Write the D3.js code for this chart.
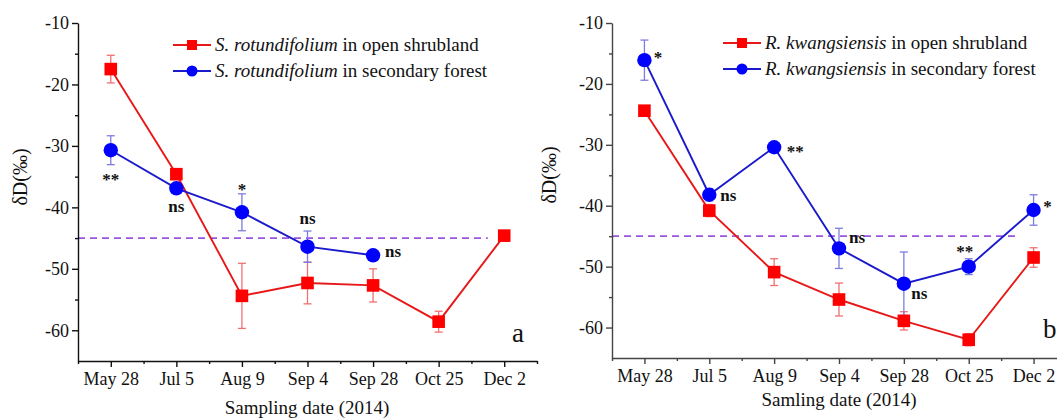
<!DOCTYPE html>
<html>
<head>
<meta charset="utf-8">
<script src="https://cdn.jsdelivr.net/npm/d3@7"></script>
<style>
  html, body { margin: 0; padding: 0; background: #fff; }
  svg { display: block; }
  svg text { font-family: "Liberation Serif", "Times New Roman", serif !important; }
</style>
</head>
<body>
<svg id="chart" width="1057" height="418"></svg>
<script>
// Sampling dates (2014)
const dates = ["May 28", "Jul 5", "Aug 9", "Sep 4", "Sep 28", "Oct 25", "Dec 2"];
const yTicks = [-10, -20, -30, -40, -50, -60];
const yMinorTicks = [-15, -25, -35, -45, -55];
const refLine = -45;

// Panel a: S. rotundifolium
const aOpenMean   = [-17.5, -34.6, -54.4, -52.3, -52.7, -58.6, -44.6];
const aOpenErr    = [2.25, 0.5, 5.3, 3.4, 2.7, 1.7, 0.4];
const aForestMean = [-30.7, -36.9, -40.8, -46.4, -47.8, null, null];
const aForestErr  = [2.35, 0.5, 3.0, 2.55, 0.5, null, null];
const aSig        = ["**", "ns", "*", "ns", "ns", null, null];

// Panel b: R. kwangsiensis
const bOpenMean   = [-24.4, -40.8, -50.9, -55.4, -58.9, -62.0, -48.5];
const bOpenErr    = [0.5, 1.0, 2.2, 2.7, 1.5, 1.0, 1.6];
const bForestMean = [-16.1, -38.2, -30.4, -47.0, -52.8, -50.0, -40.7];
const bForestErr  = [3.3, 1.0, 0.4, 3.3, 5.2, 1.3, 2.5];
const bSig        = ["*", "ns", "**", "ns", "ns", "**", "*"];

const RED = "#ff0000", RED_LINE = "#e81818";
const BLUE = "#0000ff", BLUE_LINE = "#1a1acc";
const SERIF = "Liberation Serif";

const svg = d3.select("#chart");
svg.append("rect").attr("width", 1057).attr("height", 418).attr("fill", "#fff");

function drawPanel(cfg) {
  const g = svg.append("g");
  const x = d3.scaleLinear().domain([-0.5, 6.5]).range([cfg.left, cfg.right]);
  const y = d3.scaleLinear().domain([-65, -10]).range([cfg.bottom, cfg.top]);

  // reference line
  g.append("line")
    .attr("x1", x(-0.5)).attr("x2", x(5.75))
    .attr("y1", y(refLine)).attr("y2", y(refLine))
    .attr("stroke", "#9b55de").attr("stroke-width", 1.8)
    .attr("stroke-dasharray", "7,5");

  // y axis
  const yAxis = g.append("g").attr("transform", `translate(${cfg.left},0)`)
    .call(d3.axisLeft(y).tickValues(yTicks).tickSize(6).tickSizeOuter(0).tickPadding(3)
      .tickFormat(v => "-" + Math.abs(v)));
  g.append("g").attr("transform", `translate(${cfg.left},0)`)
    .call(d3.axisLeft(y).tickValues(yMinorTicks).tickSize(3).tickSizeOuter(0).tickFormat(""))
    .select(".domain").remove();
  yAxis.selectAll("text").attr("font-size", 18).attr("fill", "#111")
    .style("font-family", SERIF);

  // x axis
  const xAxis = g.append("g").attr("transform", `translate(0,${cfg.bottom})`)
    .call(d3.axisBottom(x).tickValues(d3.range(0, 7)).tickSize(6).tickSizeOuter(0).tickPadding(5)
      .tickFormat(i => dates[i]));
  g.append("g").attr("transform", `translate(0,${cfg.bottom})`)
    .call(d3.axisBottom(x).tickValues(d3.range(-0.5, 7, 1)).tickSize(3).tickSizeOuter(0).tickFormat(""))
    .select(".domain").remove();
  xAxis.selectAll("text").attr("font-size", 18).attr("fill", "#111")
    .style("font-family", SERIF);

  g.selectAll(".domain, .tick line").attr("stroke", cfg.axisColor).attr("stroke-width", 1.4);

  // axis titles
  g.append("text")
    .attr("x", cfg.xTitleX).attr("y", cfg.xTitleY)
    .attr("text-anchor", "middle").attr("font-size", 19).attr("fill", "#111")
    .text(cfg.xTitle);
  g.append("text")
    .attr("transform", `translate(${cfg.yTitleX},${cfg.yTitleY}) rotate(-90)`)
    .attr("text-anchor", "middle").attr("font-size", 20).attr("fill", "#111")
    .text("δD(‰)");

  // series
  const series = [
    { mean: cfg.openMean, err: cfg.openErr, line: RED_LINE, fill: RED, bar: "#f07070", shape: "square" },
    { mean: cfg.forestMean, err: cfg.forestErr, line: BLUE_LINE, fill: BLUE, bar: "#7d7de0", shape: "circle" }
  ];

  series.forEach(s => {
    const pts = s.mean.map((v, i) => ({ i, v, e: s.err[i] })).filter(d => d.v !== null);
    const eg = g.append("g");
    pts.forEach(d => {
      eg.append("line").attr("x1", x(d.i)).attr("x2", x(d.i))
        .attr("y1", y(d.v + d.e)).attr("y2", y(d.v - d.e))
        .attr("stroke", s.bar).attr("stroke-width", 1.3);
      [d.v + d.e, d.v - d.e].forEach(c => {
        eg.append("line").attr("x1", x(d.i) - 4).attr("x2", x(d.i) + 4)
          .attr("y1", y(c)).attr("y2", y(c))
          .attr("stroke", s.bar).attr("stroke-width", 1.3);
      });
    });
    g.append("path").datum(pts)
      .attr("d", d3.line().x(d => x(d.i)).y(d => y(d.v)))
      .attr("fill", "none").attr("stroke", s.line).attr("stroke-width", 1.9);
  });

  series.forEach(s => {
    const pts = s.mean.map((v, i) => ({ i, v })).filter(d => d.v !== null);
    if (s.shape === "square") {
      g.selectAll(null).data(pts).join("rect")
        .attr("x", d => x(d.i) - 6.3).attr("y", d => y(d.v) - 6.3)
        .attr("width", 12.6).attr("height", 12.6).attr("fill", s.fill);
    } else {
      g.selectAll(null).data(pts).join("circle")
        .attr("cx", d => x(d.i)).attr("cy", d => y(d.v)).attr("r", 7.2).attr("fill", s.fill);
    }
  });

  // significance labels next to the forest series
  cfg.sig.forEach((lab, i) => {
    if (!lab) return;
    const off = cfg.sigOffsets[i];
    g.append("text")
      .attr("x", x(i) + off[0]).attr("y", y(cfg.forestMean[i]) + off[1])
      .attr("text-anchor", off[2]).attr("font-weight", "bold")
      .attr("font-size", 17).attr("fill", "#111")
      .text(lab);
  });

  // legend
  const legend = [
    { s: series[0], rest: " in open shrubland" },
    { s: series[1], rest: " in secondary forest" }
  ];
  legend.forEach((L, k) => {
    const ly = cfg.legendY + k * 26;
    const lx = cfg.legendX;
    g.append("line").attr("x1", lx).attr("x2", lx + 38).attr("y1", ly).attr("y2", ly)
      .attr("stroke", L.s.line).attr("stroke-width", 2);
    if (L.s.shape === "square") {
      g.append("rect").attr("x", lx + 19 - 5).attr("y", ly - 5).attr("width", 10).attr("height", 10)
        .attr("fill", L.s.fill);
    } else {
      g.append("circle").attr("cx", lx + 19).attr("cy", ly).attr("r", 5.5).attr("fill", L.s.fill);
    }
    const t = g.append("text").attr("x", lx + 42).attr("y", ly + 6)
      .attr("font-size", 19).attr("fill", "#111");
    t.append("tspan").attr("font-style", "italic").text(cfg.species);
    t.append("tspan").text(L.rest);
  });

  // panel letter
  g.append("text").attr("x", cfg.letterX).attr("y", cfg.letterY)
    .attr("font-size", 27).attr("fill", "#111").text(cfg.letter);
}

drawPanel({
  left: 78, right: 537, top: 23, bottom: 361,
  axisColor: "#111",
  openMean: aOpenMean, openErr: aOpenErr,
  forestMean: aForestMean, forestErr: aForestErr,
  sig: aSig,
  sigOffsets: [[0, 35, "middle"], [0, 24, "middle"], [0, -17, "middle"], [0, -23, "middle"], [12, 2, "start"]],
  species: "S. rotundifolium",
  legendX: 173, legendY: 45,
  xTitle: "Sampling date (2014)", xTitleX: 307, xTitleY: 414,
  yTitleX: 27, yTitleY: 177,
  letter: "a", letterX: 512, letterY: 342
});

drawPanel({
  left: 612, right: 1066, top: 23, bottom: 358,
  axisColor: "#444",
  openMean: bOpenMean, openErr: bOpenErr,
  forestMean: bForestMean, forestErr: bForestErr,
  sig: bSig,
  sigOffsets: [[13.5, 2.5, "middle"], [11, 6.5, "start"], [21, 10, "middle"], [10, -5, "start"],
               [7.5, 15, "start"], [-4, -10, "middle"], [14, 2.5, "middle"]],
  species: "R. kwangsiensis",
  legendX: 723, legendY: 43,
  xTitle: "Samling date (2014)", xTitleX: 839, xTitleY: 406,
  yTitleX: 556, yTitleY: 175,
  letter: "b", letterX: 1043, letterY: 338
});
</script>
</body>
</html>
